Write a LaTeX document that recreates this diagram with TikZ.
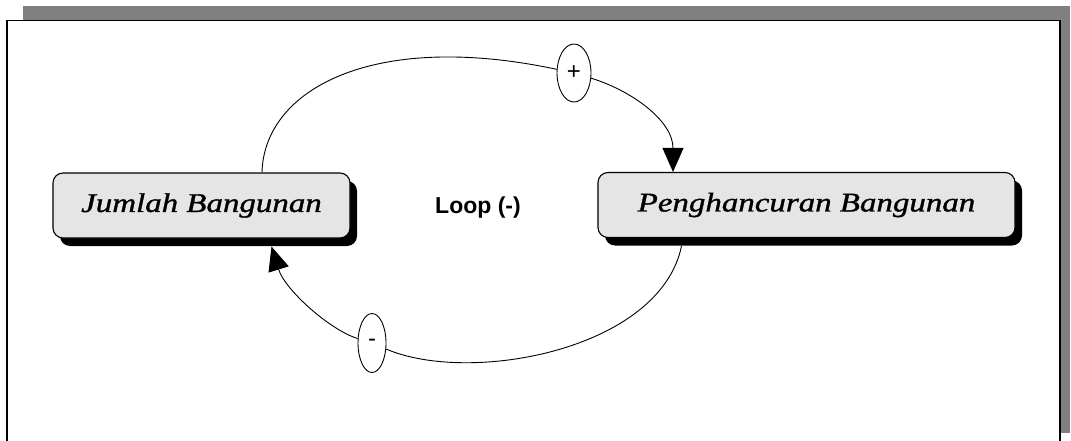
\documentclass[tikz,border=0pt]{standalone}
\usepackage{fontspec}
\usetikzlibrary{arrows.meta,shadows,shapes.geometric}
\newfontfamily\varfont{Liberation Serif}[FakeStretch=1.22,FakeBold=1.2]
\newfontfamily\signfont{Liberation Sans}

\begin{document}
\begin{tikzpicture}[x=1pt,y=1pt]

    \tikzset{
      varbox/.style={
        draw,
        line width=1.1pt,
        fill=gray!20,
        rounded corners=10pt,
        minimum height=65pt,
        inner sep=0pt,
        font=\varfont\itshape\fontsize{27}{30}\selectfont,
        drop shadow={shadow xshift=7pt,shadow yshift=-8pt,fill=black,opacity=1},
      },
      sign/.style={
        draw,
        ellipse,
        line width=0.9pt,
        fill=white,
        inner sep=0pt,
        font=\signfont\fontsize{24}{26}\selectfont,
      },
      link/.style={
        line width=0.9pt,
      },
      linkarrow/.style={
        link,
        -{Triangle[length=24pt,width=21pt]},
      },
    }
    \useasboundingbox (0,0) rectangle (1071,440);

	 \fill[white] (0,0) rectangle (1071,440);

	 \fill[gray] (23,7) rectangle (1070,434);

	 \filldraw[color={black},fill={white},line width=1.5pt] (7,-5) rectangle (1060,419.5);

	 \node[varbox,minimum width=297pt] (jumlah) at (201.5,234.5) {Jumlah Bangunan};

	 \node[varbox,minimum width=417pt] (penghancuran) at (806.5,235) {Penghancuran Bangunan};

	 \node[font=\signfont\bfseries\fontsize{23}{26}\selectfont,anchor=base] (loop) at (478,227) {Loop (-)};

	 \node[sign,minimum width=34pt,minimum height=58pt] (plus) at (574,367) {+};

	 \node[sign,minimum width=28pt,minimum height=59pt] (minus) at (372,97) {-};

	 \draw[link] ([xshift=60.5pt]jumlah.north) .. controls (264,350) and (372,410) .. (plus);

	 \draw[linkarrow] (plus) .. controls (630,350) and (673,320) .. ([xshift=-133.5pt]penghancuran.north);

	 \draw[link] ([xshift=-125pt,yshift=-8pt]penghancuran.south) .. controls (660,90) and (470,55) .. (minus);

	 \draw[linkarrow] (minus) .. controls (330,110) and (285,150) .. ([xshift=70pt,yshift=-8pt]jumlah.south);

\end{tikzpicture}
\end{document}
